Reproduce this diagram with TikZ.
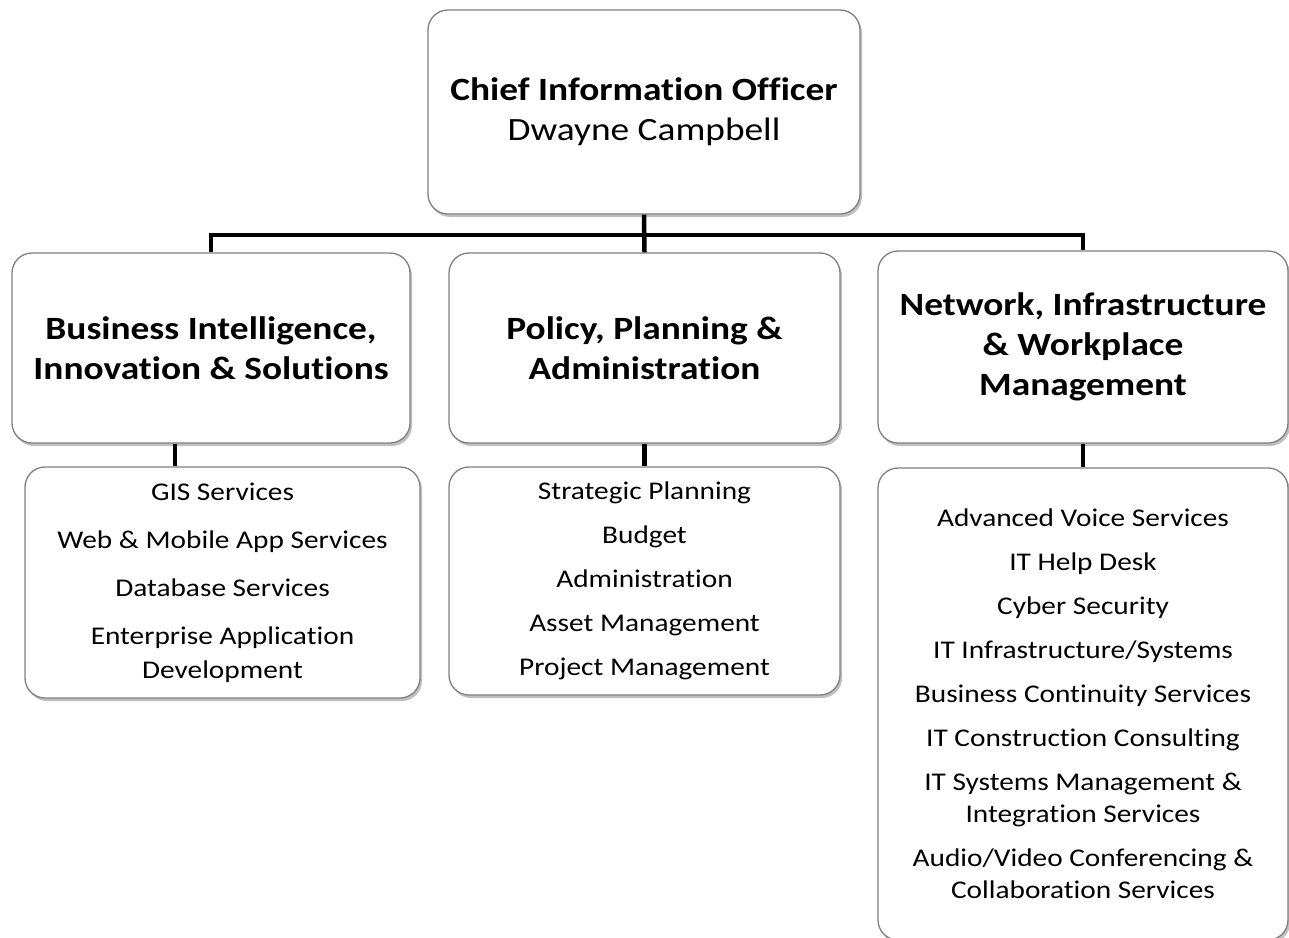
\documentclass[tikz,border=0pt]{standalone}
\usepackage{fontspec}
\setmainfont{Carlito}[FakeStretch=1.15, Ligatures=NoCommon]
\usetikzlibrary{shadows,calc}

\begin{document}
\begin{tikzpicture}[x=1pt,y=-1pt,
    box/.style={draw=black!50, line width=1.3pt, rounded corners=20pt, fill=white, align=center, inner sep=0pt,
        drop shadow={shadow xshift=2pt, shadow yshift=-3pt, fill=black!45, opacity=0.55}},
    head/.style={box, font=\fontsize{32.5}{40}\selectfont\bfseries},
    list/.style={box, font=\fontsize{25.5}{32}\selectfont},
    conn/.style={line width=4.5pt}]
    \useasboundingbox (0,0) rectangle (1289,937);
    \clip (0,0) rectangle (1289,937);

    % Chief Information Officer at the top
    \node[box, font=\fontsize{32.5}{40}\selectfont, minimum width=432pt, minimum height=204pt] (cio) at (644,112)
        {\textbf{Chief Information Officer}\\Dwayne Campbell};

    % The three divisions
    \node[head, minimum width=398pt, minimum height=190pt] (bi) at (211,348) {Business Intelligence,\\Innovation \& Solutions};
    \node[head, minimum width=391pt, minimum height=190pt] (ppa) at (644.5,348) {Policy, Planning \&\\Administration};
    \node[head, minimum width=410pt, minimum height=192pt] (niw) at (1083,347) {Network, Infrastructure\\\& Workplace\\Management};

    % Services under each division
    \node[list, font=\fontsize{25.5}{34}\selectfont, minimum width=395pt, minimum height=231pt] (bilist) at (222.5,582.5)
        {GIS Services\\[14pt]Web \& Mobile App Services\\[14pt]Database Services\\[14pt]Enterprise Application\\Development};
    \node[list, minimum width=391pt, minimum height=228pt] (ppalist) at (644.5,581)
        {Strategic Planning\\[12pt]Budget\\[12pt]Administration\\[12pt]Asset Management\\[12pt]Project Management};
    \node[list, minimum width=410pt, minimum height=472pt] (niwlist) at (1083,704)
        {Advanced Voice Services\\[12pt]IT Help Desk\\[12pt]Cyber Security\\[12pt]IT Infrastructure/Systems\\[12pt]%
         Business Continuity Services\\[12pt]IT Construction Consulting\\[12pt]IT Systems Management \&\\Integration Services\\[12pt]%
         Audio/Video Conferencing \&\\Collaboration Services};

    % Connectors
    \coordinate (bus) at (644,235);
    \coordinate (bitap) at (175,0);
    \draw[conn] (cio.south) -- (ppa.north);
    \draw[conn] (bi.north) |- (bus) -| (niw.north);
    \draw[conn] (bi.south -| bitap) -- (bilist.north -| bitap);
    \draw[conn] (ppa.south) -- (ppalist.north);
    \draw[conn] (niw.south) -- (niwlist.north);
\end{tikzpicture}
\end{document}
